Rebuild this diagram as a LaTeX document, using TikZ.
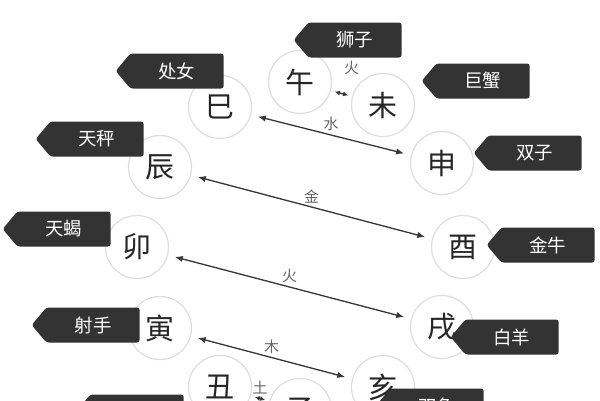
\documentclass[tikz,border=0pt]{standalone}
\usepackage{fontspec}
\setmainfont{Noto Sans CJK SC}
\usetikzlibrary{arrows.meta,shapes.symbols}

\begin{document}
\begin{tikzpicture}[x=0.02cm,y=-0.02cm,
    branch/.style={circle,draw=black!13,line width=0.7pt,fill=white,minimum size=1.26cm,inner sep=0pt,text=black!85,font=\fontsize{16.5}{16.5}\selectfont},
    tag/.style={signal,signal to=west,signal pointer angle=100,fill=black!80,text=white,rounded corners=1.5pt,minimum width=2.16cm,minimum height=0.7cm,inner sep=1pt,font=\fontsize{10.5}{10.5}\selectfont},
    link/.style={{Latex[length=4.5pt,width=3.6pt]}-{Latex[length=4.5pt,width=3.6pt]},line width=0.75pt,draw=black!78,shorten >=0.14cm,shorten <=0.14cm},
    near/.style={{Latex[length=3pt,width=2.8pt]}-{Latex[length=3pt,width=2.8pt]},line width=0.75pt,draw=black!78,shorten >=0.08cm,shorten <=0.08cm},
    element/.style={text=black!60,font=\fontsize{8.5}{8.5}\selectfont,inner sep=1pt}]
    \fill [white] (0,0) rectangle (600,400);
    \useasboundingbox (0,0) rectangle (600,400);

    \node [branch] (wu)   at (300,82)  {午};
    \node [branch] (wei)  at (383,105) {未};
    \node [branch] (shen) at (442,163) {申};
    \node [branch] (you)  at (463,247) {酉};
    \node [branch] (xu)   at (442,327) {戌};
    \node [branch] (hai)  at (383,387) {亥};
    \node [branch] (zi)   at (300,410) {子};
    \node [branch] (chou) at (220,387) {丑};
    \node [branch] (yin)  at (160,328) {寅};
    \node [branch] (mao)  at (137,247) {卯};
    \node [branch] (chen) at (160,167) {辰};
    \node [branch] (si)   at (220,107) {巳};

    \draw [near] (wu) -- (wei) node [element,midway,xshift=0.2cm,yshift=0.52cm] {火};
    \draw [link] (si) -- (shen) node [element,midway,above=1pt] {水};
    \draw [link] (chen) -- (you) node [element,midway,above=1pt] {金};
    \draw [link] (mao) -- (xu) node [element,midway,above=1pt] {火};
    \draw [link] (yin) -- (hai) node [element,midway,above=1pt] {木};
    \draw [near] (chou) -- (zi) node [element,midway,above=1pt] {土};

    \node [tag] (leo)    at (355,40)  {狮子};
    \node [tag] (virgo)  at (177,71)  {处女};
    \node [tag] (cancer) at (483,81)  {巨蟹};
    \node [tag] (gemini) at (535,153) {双子};
    \node [tag] (libra)  at (97,139)  {天秤};
    \node [tag] (scorp)  at (64,229)  {天蝎};
    \node [tag] (taurus) at (548,245) {金牛};
    \node [tag] (aries)  at (512,337) {白羊};
    \node [tag] (sagit)  at (93,325)  {射手};
    \node [tag] (capri)  at (137,412) {摩羯};
    \node [tag] (pisces) at (437,406) {双鱼};

  \end{tikzpicture}
\end{document}
